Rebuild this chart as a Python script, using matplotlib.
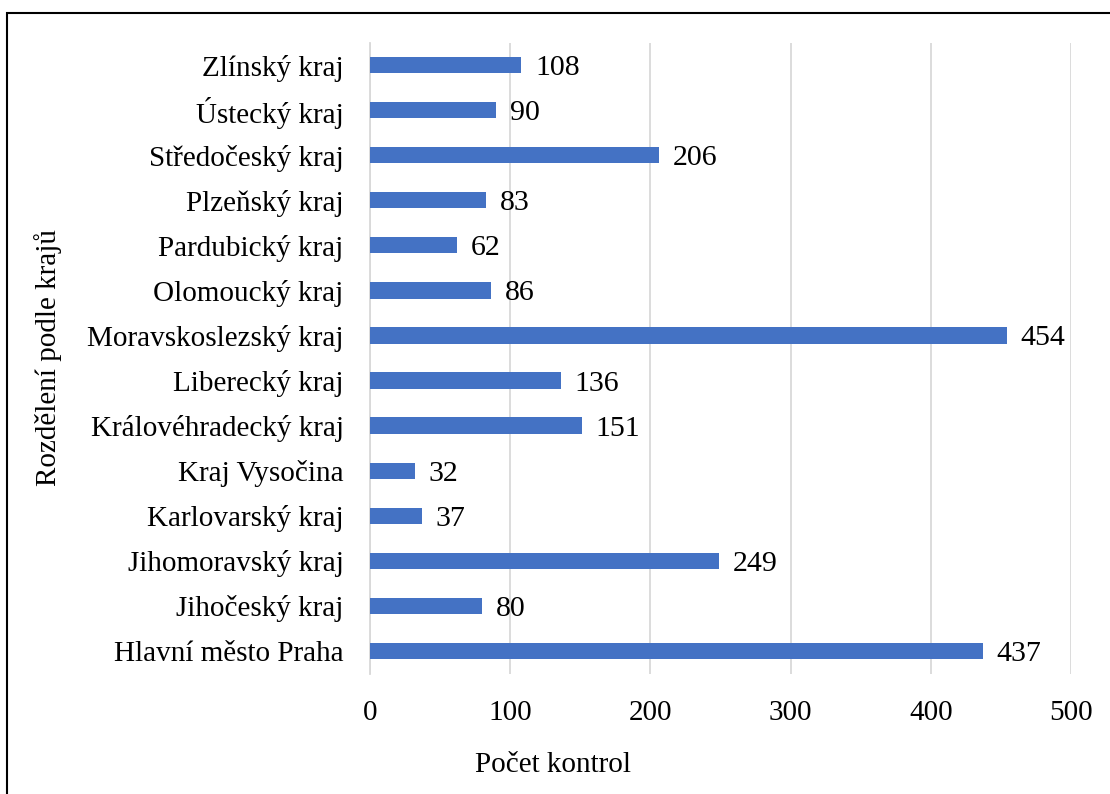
import matplotlib.pyplot as plt
from matplotlib.patches import Rectangle

plt.rcParams['font.family'] = ['Liberation Serif', 'DejaVu Serif']

kraje = ["Hlavní město Praha", "Jihočeský kraj", "Jihomoravský kraj", "Karlovarský kraj",
         "Kraj Vysočina", "Královéhradecký kraj", "Liberecký kraj", "Moravskoslezský kraj",
         "Olomoucký kraj", "Pardubický kraj", "Plzeňský kraj", "Středočeský kraj",
         "Ústecký kraj", "Zlínský kraj"]
pocty = [437, 80, 249, 37, 32, 151, 136, 454, 86, 62, 83, 206, 90, 108]
xticks = [0, 100, 200, 300, 400, 500]

fig = plt.figure(figsize=(11.1, 7.94), dpi=100)
ax = fig.add_axes([370/1110, 1-673.5/794, (1071-370)/1110, (673.5-42.5)/794])

y = range(len(kraje))
ax.barh(y, pocty, height=0.36, color='#4472C4', zorder=3)
for i, v in enumerate(pocty):
    ax.annotate(str(v), (v, i), xytext=(10, 0), textcoords='offset points',
                ha='left', va='center_baseline', fontsize=21.5)

ax.set_xlim(0, 500)
ax.set_ylim(-0.5, len(kraje) - 0.5)
ax.set_yticks(list(y))
ax.set_yticklabels(kraje, fontsize=21)
ax.set_xticks(xticks)
ax.set_xticklabels([str(t) for t in xticks], fontsize=21)
ax.tick_params(axis='y', length=0, pad=19)
ax.tick_params(axis='x', length=0, pad=19)
ax.grid(axis='x', color='#D9D9D9', linewidth=1.3, zorder=0)
for s in ['top', 'right', 'bottom']:
    ax.spines[s].set_visible(False)
ax.spines['left'].set_color('#D9D9D9')
ax.spines['left'].set_linewidth(1.3)

fig.text(553/1110, 1-765/794, "Počet kontrol", ha='center', va='center', fontsize=21)
fig.text(48/1110, 1-358/794, "Rozdělení podle krajů", ha='center', va='center',
         rotation=90, fontsize=21)

fig.patches.append(Rectangle((7/1110, -0.1), 1.2, 1.1 - 13/794, transform=fig.transFigure,
                             fill=False, edgecolor='black', linewidth=1.5))

fig.savefig('out.png', dpi=100)
